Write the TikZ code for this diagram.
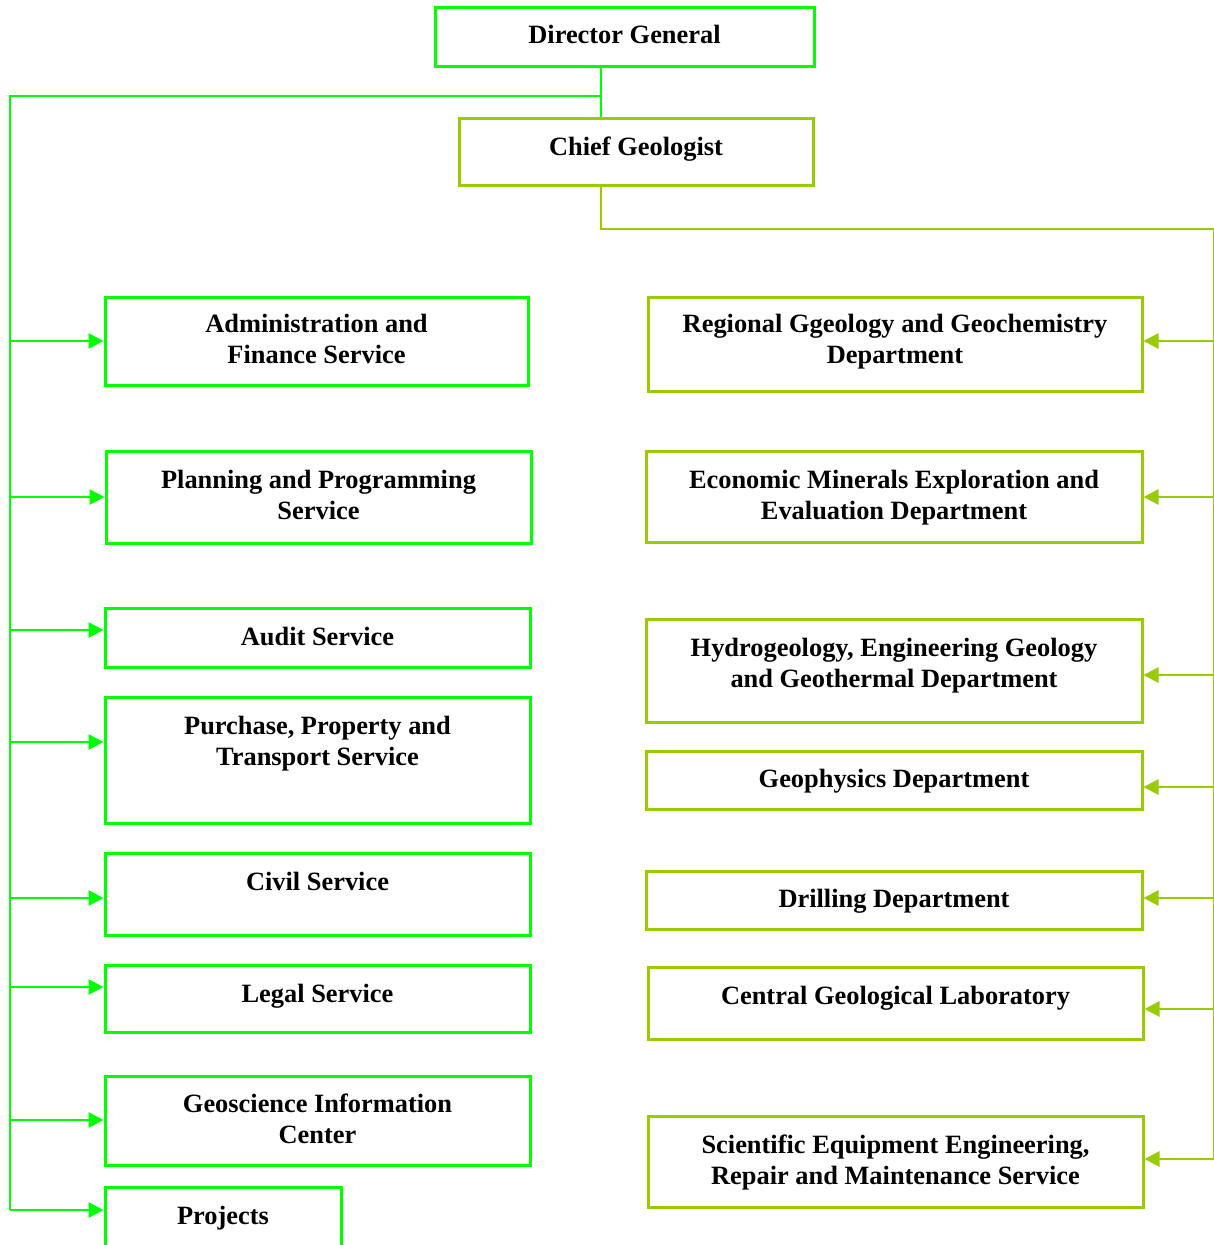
\documentclass[tikz,border=0pt]{standalone}
\usepackage{xcolor}
\usepackage{fontspec}
\setmainfont{Liberation Serif}
\usepackage{tikz}
\usetikzlibrary{arrows.meta}

\definecolor{dgGreen}{RGB}{0,255,0}
\definecolor{cgGreen}{RGB}{153,204,0}

\begin{document}
\begin{tikzpicture}[
    x=1pt, y=-1pt,
    box/.style={draw, line width=3pt, inner sep=0pt, align=center, font=\fontsize{26.4}{31}\selectfont\bfseries},
    lbox/.style={box, draw=dgGreen},
    rbox/.style={box, draw=cgGreen},
    lift/.style={text depth=#1pt},
    lline/.style={draw=dgGreen, line width=2.8pt},
    rline/.style={draw=cgGreen, line width=2.8pt},
    tip/.style={-{Triangle[length=15pt,width=15pt]}}
]
    \useasboundingbox (0,0) rectangle (1213,1245);

    % top of the chart
    \node[lbox, lift=5, minimum width=379pt, minimum height=59pt] (dg) at (624.5,36.5) {Director General};
    \node[rbox, lift=11, minimum width=354pt, minimum height=67pt] (cg) at (636,151.5) {Chief Geologist};

    % services (left)
    \node[lbox, lift=5, minimum width=423pt, minimum height=88pt] (adm) at (316.5,341) {Administration and\\Finance Service};
    \node[lbox, lift=4, minimum width=425pt, minimum height=92pt] (plan) at (318.5,497) {Planning and Programming\\Service};
    \node[lbox, lift=3, minimum width=425pt, minimum height=59pt] (audit) at (317.5,637.5) {Audit Service};
    \node[lbox, lift=39, minimum width=425pt, minimum height=126pt] (purch) at (317.5,760) {Purchase, Property and\\Transport Service};
    \node[lbox, lift=26, minimum width=425pt, minimum height=82pt] (civil) at (317.5,894) {Civil Service};
    \node[lbox, lift=11, minimum width=425pt, minimum height=67pt] (legal) at (317.5,998.5) {Legal Service};
    \node[lbox, lift=3, minimum width=425pt, minimum height=89pt] (geo) at (317.5,1120.5) {Geoscience Information\\Center};
    \node[lbox, lift=14, minimum width=236pt, minimum height=70pt] (proj) at (223,1222) {Projects};

    % departments (right)
    \node[rbox, lift=10, minimum width=494pt, minimum height=94pt] (reg) at (895,344) {Regional Ggeology and Geochemistry\\Department};
    \node[rbox, lift=4, minimum width=496pt, minimum height=91pt] (econ) at (894,496.5) {Economic Minerals Exploration and\\Evaluation Department};
    \node[rbox, lift=16, minimum width=496pt, minimum height=103pt] (hydro) at (894,670.5) {Hydrogeology, Engineering Geology\\and Geothermal Department};
    \node[rbox, lift=3, minimum width=496pt, minimum height=58pt] (geoph) at (894,780) {Geophysics Department};
    \node[rbox, lift=3, minimum width=496pt, minimum height=58pt] (drill) at (894,900) {Drilling Department};
    \node[rbox, lift=16, minimum width=495pt, minimum height=72pt] (lab) at (895.5,1003) {Central Geological Laboratory};
    \node[rbox, lift=4, minimum width=495pt, minimum height=91pt] (sci) at (895.5,1161.5) {Scientific Equipment Engineering,\\Repair and Maintenance Service};

    % trunks
    \coordinate (spine) at (601,96);
    \coordinate (ltop) at (10,96);
    \coordinate (lbot) at (10,1210);
    \coordinate (rtop) at (1214,229);
    \coordinate (rbot) at (1214,1159);

    \draw[lline] (spine |- dg.south) -- (spine |- cg.north);
    \draw[lline] (spine) -- (ltop) -- (lbot);
    \draw[rline] (spine |- cg.south) -- (spine |- rtop) -- (rtop) -- (rbot);

    % arrows into the boxes
    \foreach \n/\y in {adm/341, plan/497, audit/630, purch/742, civil/898, legal/987, geo/1120, proj/1210}{
        \coordinate (l-\n) at (10,\y);
        \draw[lline, tip] (l-\n) -- (l-\n -| \n.west);
    }
    \foreach \n/\y in {reg/341, econ/497, hydro/675, geoph/787, drill/898, lab/1009, sci/1159}{
        \coordinate (r-\n) at (1214,\y);
        \draw[rline, tip] (r-\n) -- (r-\n -| \n.east);
    }
\end{tikzpicture}
\end{document}
